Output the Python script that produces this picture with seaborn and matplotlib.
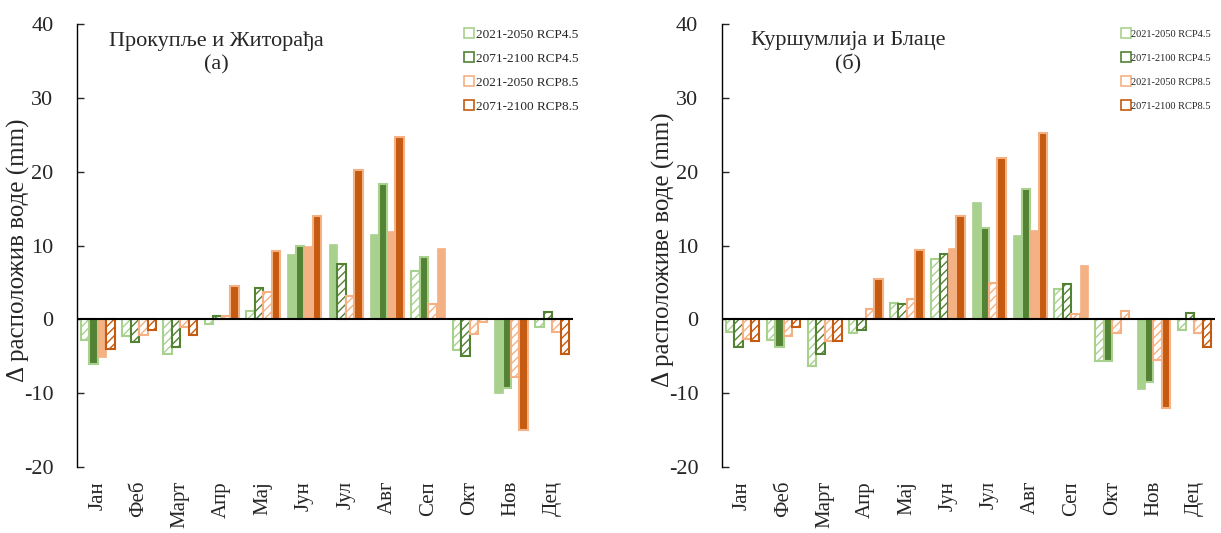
import numpy as np
import matplotlib
matplotlib.use('Agg')
import matplotlib.pyplot as plt
from matplotlib.lines import Line2D
import pandas as pd
import seaborn as sns

# Months (Serbian Cyrillic) and series names
months = ['Јан', 'Феб', 'Март', 'Апр', 'Мај', 'Јун', 'Јул', 'Авг', 'Сеп', 'Окт', 'Нов', 'Дец']
series = ['2021-2050 RCP4.5', '2071-2100 RCP4.5', '2021-2050 RCP8.5', '2071-2100 RCP8.5']

# Panel (а): Прокупље и Житорађа
a_rcp45_near = [-2.8, -2.2, -4.7, -0.6, 1.1, 8.8, 10.2, 11.5, 6.5, -4.1, -10.0, -1.0]
a_rcp45_far = [-6.0, -3.1, -3.8, 0.45, 4.3, 10.0, 7.5, 18.3, 8.4, -4.9, -9.3, 1.0]
a_rcp85_near = [-5.1, -2.1, -1.1, 0.4, 3.7, 9.9, 3.2, 11.9, 2.1, -2.0, -7.8, -1.7]
a_rcp85_far = [-4.0, -1.4, -2.1, 4.5, 9.2, 14.0, 20.2, 24.7, 9.6, -0.3, -15.0, -4.7]
# 1 = hatched bar (white fill), 0 = solid bar
a_hatch_45_near = [1, 1, 1, 1, 1, 0, 0, 0, 1, 1, 0, 1]
a_hatch_45_far = [0, 1, 1, 1, 1, 0, 1, 0, 0, 1, 0, 1]
a_hatch_85_near = [0, 1, 1, 1, 1, 0, 1, 0, 1, 1, 1, 1]
a_hatch_85_far = [1, 1, 1, 0, 0, 0, 0, 0, 0, 1, 0, 1]

# Panel (б): Куршумлија и Блаце
b_rcp45_near = [-1.7, -2.85, -6.3, -1.8, 2.2, 8.2, 15.9, 11.4, 4.1, -5.6, -9.4, -1.4]
b_rcp45_far = [-3.7, -3.7, -4.7, -1.4, 2.1, 8.9, 12.4, 17.7, 4.8, -5.6, -8.5, 0.8]
b_rcp85_near = [-2.6, -2.2, -2.9, 1.45, 2.8, 9.7, 4.9, 12.1, 0.7, -1.8, -5.5, -1.85]
b_rcp85_far = [-2.9, -1.1, -2.9, 5.5, 9.4, 14.0, 21.8, 25.3, 7.3, 1.1, -12.0, -3.7]
b_hatch_45_near = [1, 1, 1, 1, 1, 1, 0, 0, 1, 1, 0, 1]
b_hatch_45_far = [1, 0, 1, 1, 1, 1, 0, 0, 1, 0, 0, 1]
b_hatch_85_near = [1, 1, 1, 1, 1, 0, 1, 0, 1, 1, 1, 1]
b_hatch_85_far = [1, 1, 1, 0, 0, 0, 0, 0, 0, 1, 0, 1]

colors = ['#A9D18E', '#548235', '#F4B183', '#C55A11']
edge_solid = ['#A9D18E', '#A9D18E', '#F4B183', '#F4B183']

sns.set_style('white')
plt.rcParams['font.family'] = ['Liberation Serif', 'DejaVu Serif']
plt.rcParams['hatch.linewidth'] = 1.0
plt.rcParams['axes.unicode_minus'] = False


def draw_panel(ax, values, hatches, title, title_x, ylabel, legend_x, legend_fs):
    df = pd.DataFrame({
        'month': np.tile(months, 4),
        'series': np.repeat(series, 12),
        'value': np.concatenate(values),
    })
    sns.barplot(data=df, x='month', y='value', hue='series', order=months,
                hue_order=series, palette=colors, width=0.82, gap=0,
                errorbar=None, legend=False, ax=ax)
    for s, cont in enumerate(ax.containers):
        for m, bar in enumerate(cont):
            col = colors[s]
            # the last series is drawn in the lighter orange for Sep and Oct
            if s == 3 and m in (8, 9):
                col = colors[2]
            if hatches[s][m]:
                bar.set_facecolor('white')
                bar.set_edgecolor(col)
                bar.set_hatch('////')
                bar.set_linewidth(1.5)
            else:
                bar.set_facecolor(col)
                if s in (1, 3) and col == colors[s]:
                    bar.set_edgecolor(edge_solid[s])
                    bar.set_linewidth(1.5)
                else:
                    bar.set_edgecolor(col)
                    bar.set_linewidth(0.5)

    ax.axhline(0, color='black', lw=1.5, zorder=5)
    ax.set_ylim(-20, 40)
    ax.set_xlim(-0.5, 11.5)
    ax.set_yticks(np.arange(-20, 41, 10))
    for side in ['top', 'right', 'bottom']:
        ax.spines[side].set_visible(False)
    ax.spines['left'].set_color('black')
    ax.spines['left'].set_linewidth(1.0)
    ax.tick_params(axis='y', direction='in', length=5, width=1, pad=17,
                   labelsize=16, left=True)
    ax.tick_params(axis='x', length=0, pad=10, labelsize=15, rotation=90)
    for lab in ax.get_xticklabels():
        lab.set_va('top')
        lab.set_ha('center')
    ax.set_xlabel('')
    ax.set_ylabel(ylabel, fontsize=18)
    ax.yaxis.set_label_coords(-0.095, 0.49)
    ax.text(title_x, 0.935, title, transform=ax.transAxes, ha='center', va='center',
            fontsize=16, linespacing=1.25)

    # legend: ~25 px between entries, first entry centred near y = 35 px
    handles = [Line2D([0], [0], marker='s', linestyle='none', markersize=7,
                      markerfacecolor='white', markeredgecolor=c, markeredgewidth=1.2)
               for c in colors]
    fs_px = legend_fs * 100 / 72
    top = (467 - (35 - fs_px / 2)) / 443
    ax.legend(handles, series, loc='upper left', bbox_to_anchor=(legend_x, top),
              frameon=False, fontsize=legend_fs, handlelength=0.8, handletextpad=0.15,
              labelspacing=25 / fs_px - 1, borderaxespad=0, borderpad=0)


fig = plt.figure(figsize=(12.21, 5.33), dpi=100)
ax1 = fig.add_axes([0.0631, 0.1238, 0.4062, 0.8311])
ax2 = fig.add_axes([0.5913, 0.1238, 0.4038, 0.8311])

draw_panel(ax1, [a_rcp45_near, a_rcp45_far, a_rcp85_near, a_rcp85_far],
           [a_hatch_45_near, a_hatch_45_far, a_hatch_85_near, a_hatch_85_far],
           'Прокупље и Житорађа\n(а)', 0.28, 'Δ расположив воде (mm)', 0.78, 9.5)
draw_panel(ax2, [b_rcp45_near, b_rcp45_far, b_rcp85_near, b_rcp85_far],
           [b_hatch_45_near, b_hatch_45_far, b_hatch_85_near, b_hatch_85_far],
           'Куршумлија и Блаце\n(б)', 0.256, 'Δ расположиве воде (mm)', 0.81, 7.5)

fig.savefig('out.png', dpi=100)
